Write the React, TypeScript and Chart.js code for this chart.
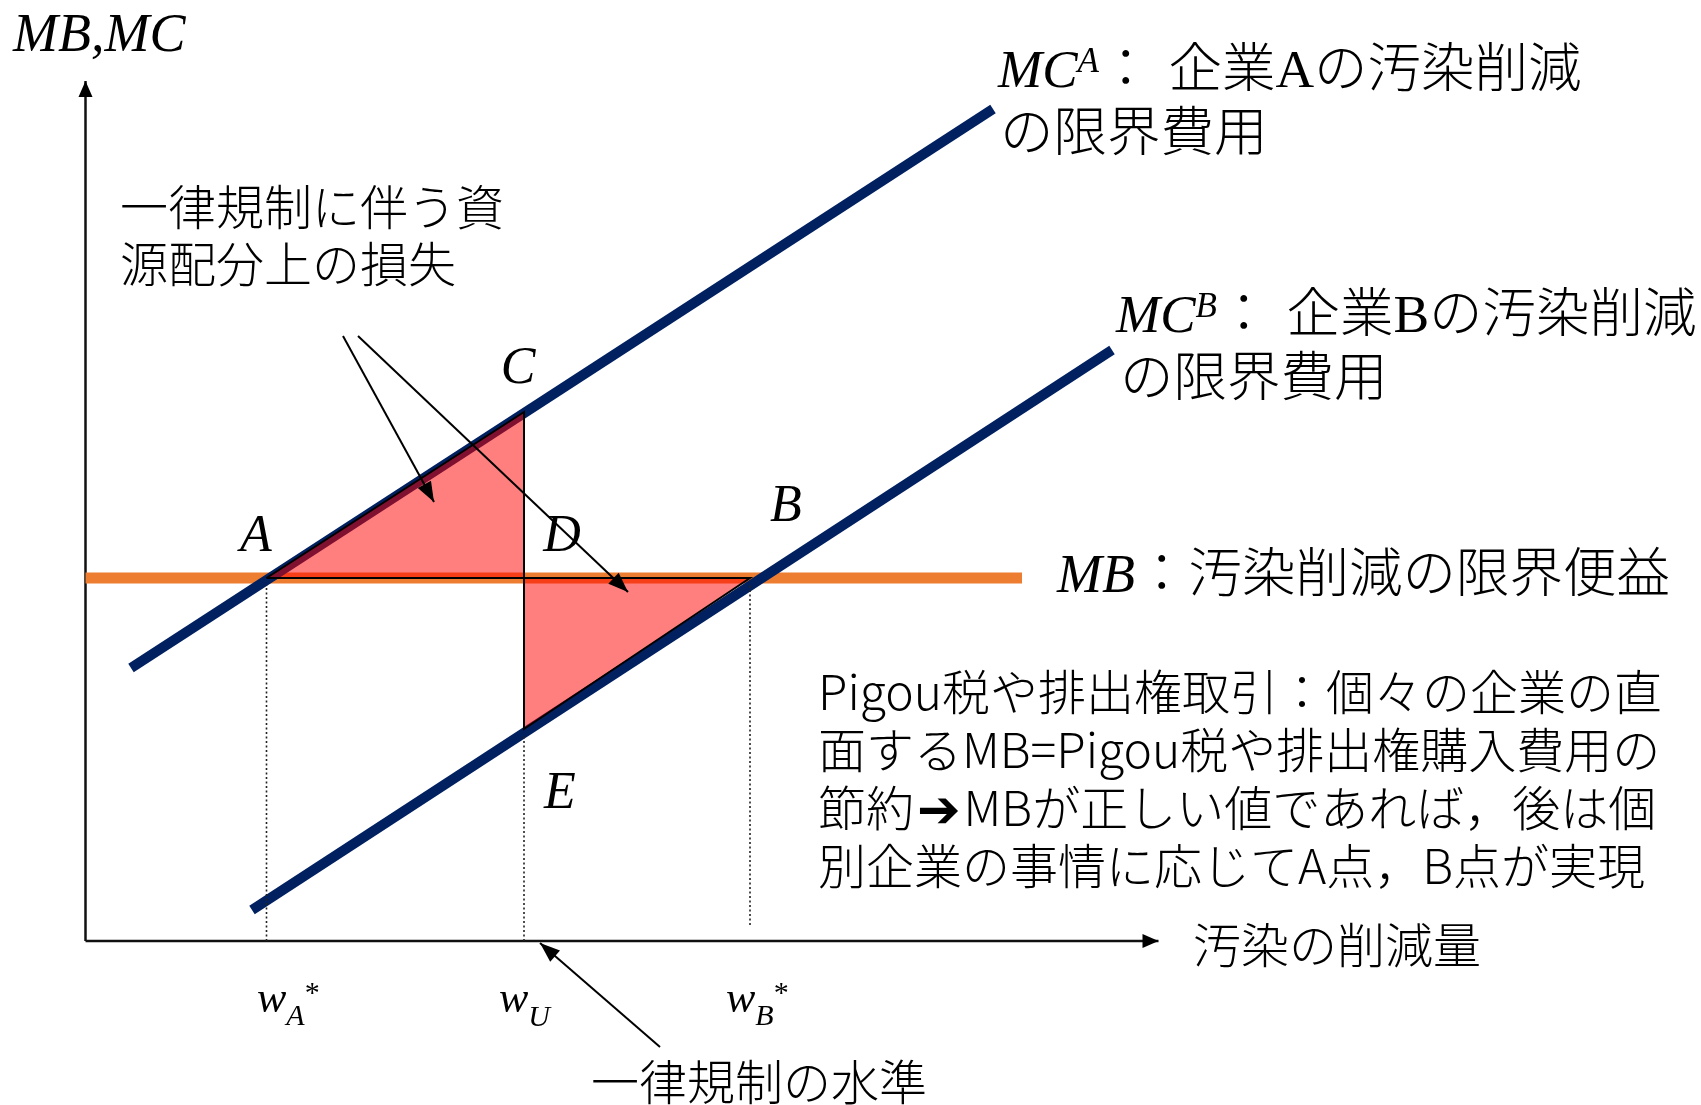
import React, { useEffect, useRef } from 'react';
import { Chart, registerables } from 'chart.js';

Chart.register(...registerables);

// ---- Values (chart units: x = pollution abatement, y = MB / MC) ----
const W_A = 18.1; // w_A*
const W_U = 43.85; // w_U (uniform regulation)
const W_B = 66.45; // w_B*
const MB_LEVEL = 36.3; // marginal benefit
const C_LEVEL = 52.9; // MC^A at w_U
const E_LEVEL = 21.2; // MC^B at w_U

const MB_X = [0, 93.65];
const MCA_X = [4.55, 90.75];
const MCA_Y = [27.3, 83.2];
const MCB_X = [16.65, 102.65];
const MCB_Y = [3.1, 59.1];

const X_AXIS_END = 107.3;
const Y_AXIS_END = 86.0;

const GUIDE_X = [W_A, W_U, W_B];
const GUIDE_BOTTOM = [0, 0, 1.6];
const GUIDE_TOP = [35.6, 20.6, 35.6];

const ARROW_FROM_X = [25.75, 27.25, 57.45];
const ARROW_FROM_Y = [60.5, 60.5, -10.6];
const ARROW_TO_X = [34.85, 54.25, 45.45];
const ARROW_TO_Y = [43.9, 34.9, -0.2];

// ---- Text ----
const LOSS_LINES = ['一律規制に伴う資', '源配分上の損失'];
const PIGOU_LINES = [
  'Pigou税や排出権取引：個々の企業の直',
  '面するMB=Pigou税や排出権購入費用の',
  '節約|➔|MBが正しい値であれば，後は個',
  '別企業の事情に応じてA点，B点が実現',
];
const X_TITLE = '汚染の削減量';
const UNIFORM_LABEL = '一律規制の水準';

const SERIF = '"Liberation Serif", "Times New Roman", serif';
const CJK = '"Noto Sans CJK JP", "Noto Sans", sans-serif';
const it = (s: number) => `italic ${s}px ${SERIF}`;
const rm = (s: number) => `${s}px ${SERIF}`;
const jp = (s: number) => `300 ${s}px ${CJK}`;
const ARROW_FONT = 'bold 52px "DejaVu Sans", sans-serif';

type Run = { t: string; f: string; dy?: number; gap?: number };
type Label = { x: number; y: number; runs: Run[]; align?: 'left' | 'center' };

const pigouRuns = (line: string): Run[] =>
  line.split('|').map((t) => ({
    t,
    f: t === '➔' ? ARROW_FONT : jp(48),
    gap: t === '➔' ? 6 : 0,
    dy: t === '➔' ? 1 : 0,
  }));

const LABELS: Label[] = [
  { x: 13, y: 51, runs: [{ t: 'MB,MC', f: it(54) }] },
  { x: 120, y: 225, runs: [{ t: LOSS_LINES[0], f: jp(48) }] },
  { x: 120, y: 282, runs: [{ t: LOSS_LINES[1], f: jp(48) }] },
  {
    x: 998,
    y: 87,
    runs: [
      { t: 'MC', f: it(53) },
      { t: 'A', f: it(35), dy: -15 },
      { t: '：', f: jp(53.5), gap: 16 },
      { t: '企業', f: jp(53.5) },
      { t: 'A', f: rm(53.5) },
      { t: 'の汚染削減', f: jp(53.5) },
    ],
  },
  { x: 1000, y: 151, runs: [{ t: 'の限界費用', f: jp(53.5) }] },
  {
    x: 1116,
    y: 332,
    runs: [
      { t: 'MC', f: it(53) },
      { t: 'B', f: it(35), dy: -15 },
      { t: '：', f: jp(53.5), gap: 16 },
      { t: '企業', f: jp(53.5) },
      { t: 'B', f: rm(53.5) },
      { t: 'の汚染削減', f: jp(53.5) },
    ],
  },
  { x: 1120, y: 396, runs: [{ t: 'の限界費用', f: jp(53.5) }] },
  {
    x: 1057,
    y: 592,
    runs: [
      { t: 'MB', f: it(54) },
      { t: '：汚染削減の限界便益', f: jp(53.5) },
    ],
  },
  ...PIGOU_LINES.map((t, i) => ({ x: 818, y: 710 + i * 58, runs: pigouRuns(t) })),
  { x: 1193, y: 963, runs: [{ t: X_TITLE, f: jp(48) }] },
  { x: 591, y: 1100, runs: [{ t: UNIFORM_LABEL, f: jp(48) }] },
  { x: 256, y: 551, align: 'center', runs: [{ t: 'A', f: it(52) }] },
  { x: 518, y: 383, align: 'center', runs: [{ t: 'C', f: it(52) }] },
  { x: 562, y: 551, align: 'center', runs: [{ t: 'D', f: it(52) }] },
  { x: 786, y: 521, align: 'center', runs: [{ t: 'B', f: it(52) }] },
  { x: 560, y: 808, align: 'center', runs: [{ t: 'E', f: it(52) }] },
  {
    x: 257,
    y: 1012,
    runs: [
      { t: 'w', f: it(44) },
      { t: 'A', f: it(30), dy: 13 },
      { t: '*', f: rm(30), dy: -10 },
    ],
  },
  {
    x: 499,
    y: 1012,
    runs: [
      { t: 'w', f: it(44) },
      { t: 'U', f: it(30), dy: 14 },
    ],
  },
  {
    x: 726,
    y: 1012,
    runs: [
      { t: 'w', f: it(44) },
      { t: 'B', f: it(30), dy: 13 },
      { t: '*', f: rm(30), dy: -10 },
    ],
  },
];

const NAVY = '#002060';
const ORANGE = '#ED7D31';
const LOSS_FILL = 'rgba(255,0,0,0.5)';

function drawHead(ctx: CanvasRenderingContext2D, x0: number, y0: number, x1: number, y1: number, len: number, hw: number) {
  const a = Math.atan2(y1 - y0, x1 - x0);
  const c = Math.cos(a);
  const s = Math.sin(a);
  ctx.save();
  ctx.fillStyle = '#000';
  ctx.beginPath();
  ctx.moveTo(x1, y1);
  ctx.lineTo(x1 - len * c + hw * s, y1 - len * s - hw * c);
  ctx.lineTo(x1 - len * c - hw * s, y1 - len * s + hw * c);
  ctx.closePath();
  ctx.fill();
  ctx.restore();
}

const arrowPlugin = {
  id: 'arrowHeads',
  afterDatasetsDraw(chart: any) {
    const ctx = chart.ctx;
    chart.data.datasets.forEach((ds: any, i: number) => {
      if (!ds.arrow) return;
      const pts = chart.getDatasetMeta(i).data;
      const p0 = pts[pts.length - 2];
      const p1 = pts[pts.length - 1];
      drawHead(ctx, p0.x, p0.y, p1.x, p1.y, ds.arrow[0], ds.arrow[1]);
    });
  },
};

const textPlugin = {
  id: 'texts',
  afterDraw(chart: any) {
    const ctx: CanvasRenderingContext2D = chart.ctx;
    ctx.save();
    ctx.fillStyle = '#000';
    ctx.textBaseline = 'alphabetic';
    ctx.textAlign = 'left';
    LABELS.forEach((lb) => {
      let total = 0;
      lb.runs.forEach((r) => {
        ctx.font = r.f;
        total += ctx.measureText(r.t).width + (r.gap || 0);
      });
      let x = lb.align === 'center' ? lb.x - total / 2 : lb.x;
      lb.runs.forEach((r) => {
        ctx.font = r.f;
        const g = r.gap || 0;
        const isArrow = r.f === ARROW_FONT;
        ctx.fillText(r.t, x + (isArrow ? g / 2 : 0), lb.y + (r.dy || 0));
        x += ctx.measureText(r.t).width + g;
      });
    });
    ctx.restore();
  },
};

const seg = (xs: number[], ys: number[]) => xs.map((x, i) => ({ x, y: ys[i] }));

export default function App() {
  const ref = useRef<HTMLCanvasElement | null>(null);

  useEffect(() => {
    if (!ref.current) return;
    const base = { showLine: true, pointRadius: 0, pointHoverRadius: 0, tension: 0, fill: false };
    const datasets: any[] = [];

    // axes
    datasets.push({ ...base, data: seg([0, X_AXIS_END], [0, 0]), borderColor: '#111', borderWidth: 2.5, order: 6, arrow: [16, 7] });
    datasets.push({ ...base, data: seg([0, 0], [0, Y_AXIS_END]), borderColor: '#111', borderWidth: 2.5, order: 6, arrow: [16, 7] });

    // MB
    datasets.push({ ...base, data: seg(MB_X, [MB_LEVEL, MB_LEVEL]), borderColor: ORANGE, borderWidth: 11, order: 5 });
    // MC lines
    datasets.push({ ...base, data: seg(MCA_X, MCA_Y), borderColor: NAVY, borderWidth: 10, borderCapStyle: 'butt', order: 4 });
    datasets.push({ ...base, data: seg(MCB_X, MCB_Y), borderColor: NAVY, borderWidth: 10, borderCapStyle: 'butt', order: 4 });

    // dotted guides
    GUIDE_X.forEach((gx, i) => {
      datasets.push({
        ...base,
        data: seg([gx, gx], [GUIDE_BOTTOM[i], GUIDE_TOP[i]]),
        borderColor: '#222',
        borderWidth: 1.6,
        borderDash: [2, 2.5],
        order: 3,
      });
    });

    // loss triangles
    datasets.push({
      ...base,
      data: seg([W_A, W_U, W_U, W_A], [MB_LEVEL, C_LEVEL, MB_LEVEL, MB_LEVEL]),
      borderColor: '#000',
      borderWidth: 2,
      backgroundColor: LOSS_FILL,
      fill: 'shape',
      order: 1,
    });
    datasets.push({
      ...base,
      data: seg([W_U, W_U, W_B, W_U], [MB_LEVEL, E_LEVEL, MB_LEVEL, MB_LEVEL]),
      borderColor: '#000',
      borderWidth: 2,
      backgroundColor: LOSS_FILL,
      fill: 'shape',
      order: 1,
    });

    // annotation arrows
    ARROW_FROM_X.forEach((fx, i) => {
      datasets.push({
        ...base,
        data: seg([fx, ARROW_TO_X[i]], [ARROW_FROM_Y[i], ARROW_TO_Y[i]]),
        borderColor: '#000',
        borderWidth: 2,
        order: 0,
        arrow: [20, 7.5],
      });
    });

    const chart = new Chart(ref.current, {
      type: 'scatter',
      data: { datasets },
      options: {
        animation: false,
        responsive: false,
        devicePixelRatio: 1,
        layout: { padding: 0 },
        events: [],
        scales: {
          x: { type: 'linear', min: -8.55, max: 161.55, display: false },
          y: { type: 'linear', min: -16.4, max: 94.1, display: false },
        },
        plugins: {
          legend: { display: false },
          tooltip: { enabled: false },
        },
      } as any,
      plugins: [arrowPlugin, textPlugin],
    });
    return () => chart.destroy();
  }, []);

  return (
    <div style={{ position: 'fixed', left: 0, top: 0, width: 1701, height: 1105, background: '#fff' }}>
      <canvas ref={ref} width={1701} height={1105} style={{ display: 'block', width: 1701, height: 1105 }} />
    </div>
  );
}
